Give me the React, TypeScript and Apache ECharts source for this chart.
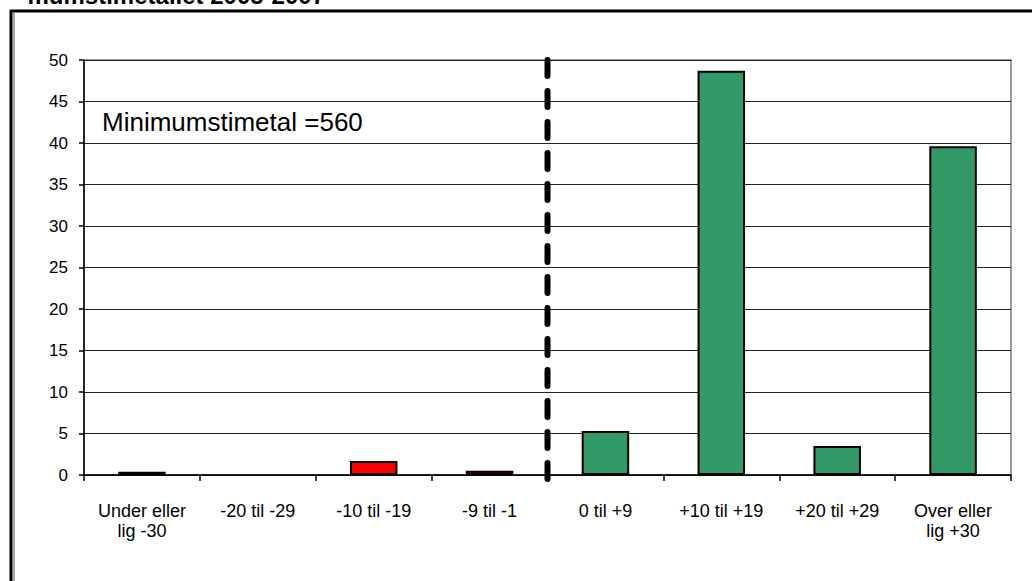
import React, { useEffect, useRef } from "react";
import * as echarts from "echarts";

const categories = [
  "Under eller\nlig -30",
  "-20 til -29",
  "-10 til -19",
  "-9 til -1",
  "0 til +9",
  "+10 til +19",
  "+20 til +29",
  "Over eller\nlig +30",
];
const values = [0.4, 0, 1.7, 0.5, 5.3, 48.7, 3.5, 39.6];
const barColors = ["#FF0000", "#FF0000", "#FF0000", "#FF0000", "#339966", "#339966", "#339966", "#339966"];
const dividerLine = [
  [4, 50],
  [4, -0.6],
];
const titleText = "mumstimetallet 2005-2007";
const noteText = "Minimumstimetal =560";

const FONT = "'Liberation Sans', Arial, sans-serif";

export default function App() {
  const ref = useRef<HTMLDivElement>(null);
  useEffect(() => {
    if (!ref.current) return;
    const chart = echarts.init(ref.current, null, { renderer: "svg" });
    chart.setOption({
      animation: false,
      backgroundColor: "#fff",
      textStyle: { fontFamily: FONT },
      grid: {
        left: 84,
        right: 21,
        top: 60,
        bottom: 106,
        show: true,
        borderColor: "#999",
        borderWidth: 2,
        backgroundColor: "transparent",
      },
      xAxis: [
        {
          type: "category",
          data: categories,
          axisLine: { lineStyle: { color: "#000", width: 1.5 } },
          axisTick: { show: true, length: 6, lineStyle: { color: "#000", width: 1.5 } },
          axisLabel: {
            color: "#000",
            fontSize: 18,
            fontFamily: FONT,
            margin: 26,
            lineHeight: 20,
            interval: 0,
          },
        },
        {
          type: "value",
          min: 0,
          max: 8,
          show: false,
        },
      ],
      yAxis: {
        type: "value",
        min: 0,
        max: 50,
        interval: 5,
        axisLine: { show: true, lineStyle: { color: "#000", width: 1.5 } },
        axisTick: { show: true, length: 5, lineStyle: { color: "#000", width: 1.5 } },
        axisLabel: { color: "#000", fontSize: 17, fontFamily: FONT, margin: 16 },
        splitLine: { lineStyle: { color: "#222", width: 1.2 } },
      },
      series: [
        {
          type: "bar",
          barWidth: "41%",
          data: values.map((v, i) => ({
            value: v,
            itemStyle: { color: barColors[i], borderColor: "#000", borderWidth: v > 0 ? 2 : 0 },
          })),
        },
        {
          type: "line",
          xAxisIndex: 1,
          data: dividerLine,
          symbol: "none",
          clip: false,
          lineStyle: { color: "#000", width: 6, type: [16, 15], cap: "round" },
          z: 5,
        },
      ],
      graphic: [
        {
          type: "text",
          left: 102,
          top: 109,
          style: { text: noteText, fontSize: 26, fontFamily: FONT, fill: "#000" },
        },
        {
          type: "text",
          x: 325,
          y: 7,
          style: {
            text: titleText,
            fontSize: 24,
            fontWeight: "bold",
            fontFamily: FONT,
            fill: "#000",
            align: "right",
            verticalAlign: "bottom",
          },
        },
        {
          type: "rect",
          shape: { x: 11, y: 11, width: 1200, height: 800 },
          style: { fill: "none", stroke: "#000", lineWidth: 3 },
        },
        {
          type: "line",
          shape: { x1: 14, y1: 13, x2: 14, y2: 581 },
          style: { stroke: "#555", lineWidth: 1 },
        },
      ],
    });
    return () => chart.dispose();
  }, []);
  return (
    <div
      ref={ref}
      style={{ position: "fixed", left: 0, top: 0, width: 1032, height: 581, background: "#fff" }}
    />
  );
}
